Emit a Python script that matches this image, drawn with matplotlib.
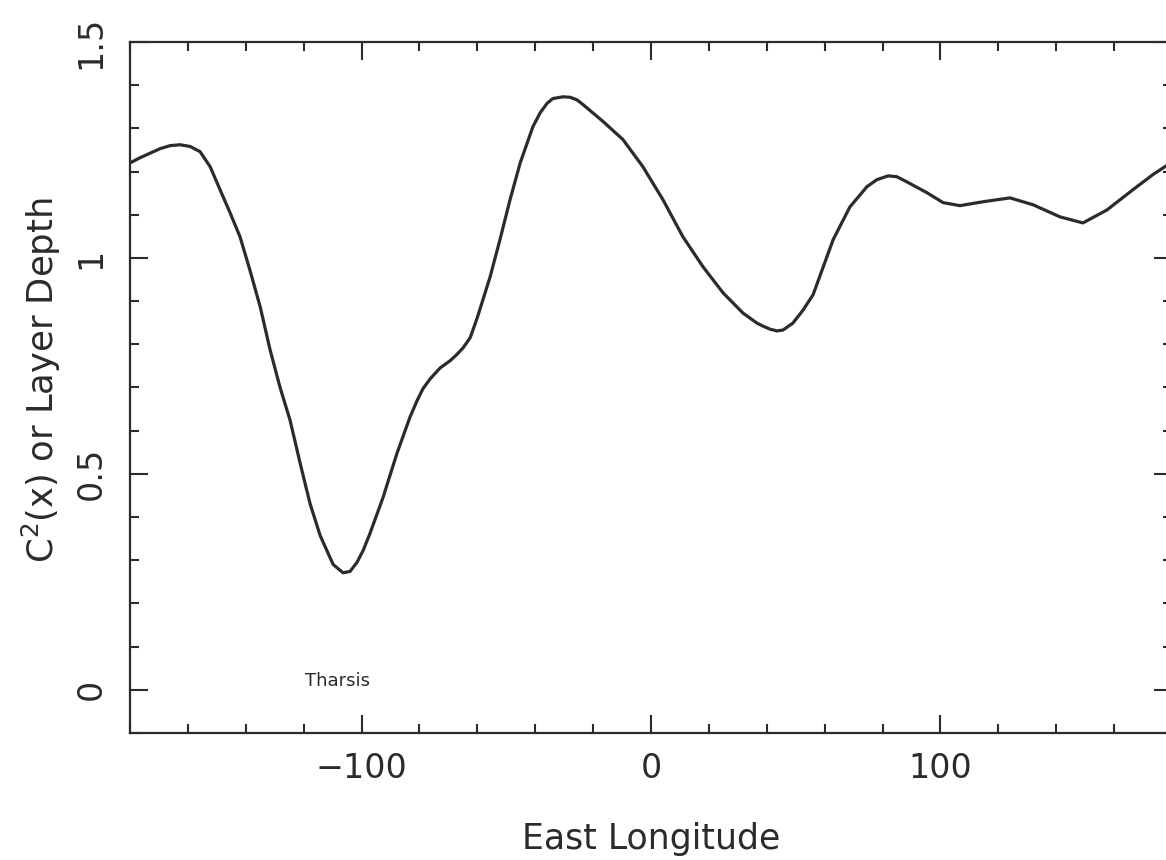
import matplotlib
matplotlib.use("Agg")
import matplotlib.pyplot as plt
from matplotlib.ticker import MultipleLocator

# curve (east longitude, value)
lon = [-180, -176.5, -169.6, -166.1, -162.7, -159.2, -155.8, -152.3, -148.9,
       -145.4, -142, -138.5, -135, -131.6, -128.2, -124.7, -121.2, -117.8,
       -114.3, -110.9, -109.8, -106.4, -104, -101.6, -99.5, -97.1, -92.6,
       -87.8, -83.3, -80.8, -78.8, -76.3, -72.9, -69.4, -67, -64.9, -62.5,
       -60.1, -55.6, -52.2, -48.7, -45.2, -40.8, -38.3, -35.9, -33.9, -30.4,
       -28, -25.6, -23.5, -16.6, -9.7, -2.8, 4.1, 11, 18, 24.9, 31.8, 36.6,
       38.7, 41.1, 43.5, 45.6, 49, 52.5, 56, 62.9, 68.7, 74.6, 78, 81.9, 84.9,
       88.4, 95.3, 100.9, 106.7, 114.7, 124, 132, 141.3, 149.2, 157.5, 166.5,
       173.4, 180]
depth = [1.220, 1.232, 1.253, 1.260, 1.262, 1.258, 1.246, 1.211, 1.158,
         1.104, 1.049, 0.970, 0.886, 0.787, 0.701, 0.624, 0.524, 0.431,
         0.357, 0.306, 0.290, 0.271, 0.274, 0.295, 0.322, 0.362, 0.445,
         0.547, 0.631, 0.670, 0.697, 0.720, 0.745, 0.762, 0.777, 0.792, 0.815,
         0.860, 0.956, 1.042, 1.135, 1.220, 1.304, 1.336, 1.358, 1.369, 1.373,
         1.372, 1.366, 1.355, 1.316, 1.274, 1.211, 1.135, 1.049, 0.979, 0.919,
         0.872, 0.849, 0.842, 0.835, 0.831, 0.833, 0.849, 0.879, 0.915, 1.042,
         1.118, 1.165, 1.181, 1.190, 1.188, 1.176, 1.151, 1.128, 1.121,
         1.130, 1.139, 1.123, 1.095, 1.081, 1.111, 1.158, 1.193, 1.222]

xticks = [-100, 0, 100]
yticks = [0, 0.5, 1, 1.5]
ytick_labels = ["0", "0.5", "1", "1.5"]

ink = "#2b2b2b"
plt.rcParams["font.family"] = ["DejaVu Sans"]

fig = plt.figure(figsize=(11.66, 8.6), dpi=100)
ax = fig.add_axes([0.1115, 0.1477, 0.8937, 0.8035])

ax.plot(lon, depth, color=ink, linewidth=2.3, solid_joinstyle="round")

ax.set_xlim(-180, 180)
ax.set_ylim(-0.1, 1.5)

ax.set_xticks(xticks)
ax.xaxis.set_minor_locator(MultipleLocator(20))
ax.set_yticks(yticks)
ax.set_yticklabels(ytick_labels, rotation=90, va="center")
ax.yaxis.set_minor_locator(MultipleLocator(0.1))

ax.tick_params(which="both", direction="in", top=True, right=True,
               color=ink, width=1.5, labelcolor=ink, labelsize=24)
ax.tick_params(which="major", length=13)
ax.tick_params(which="minor", length=6.5)
ax.tick_params(axis="x", which="major", pad=14)
ax.tick_params(axis="y", which="major", pad=16)

for s in ax.spines.values():
    s.set_linewidth(1.6)
    s.set_color(ink)

ax.set_xlabel("East Longitude", fontsize=25, color=ink, labelpad=26)
ax.set_ylabel(r"C$^2$(x) or Layer Depth", fontsize=25.5, color=ink)
ax.yaxis.set_label_coords(-0.064, 0.51)

ax.text(-119.5, 0.02, "Tharsis", fontsize=13, color=ink, va="center", ha="left",
        fontweight="medium")

fig.savefig("out.png", dpi=100)
